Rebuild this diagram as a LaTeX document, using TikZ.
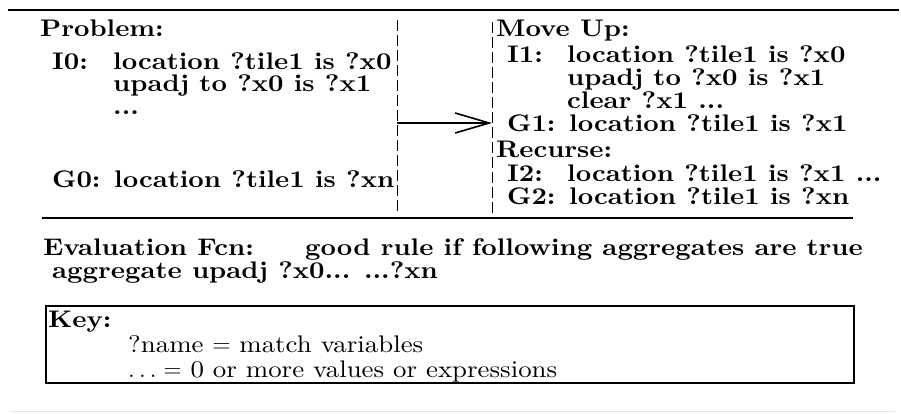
\documentclass[tikz,border=0pt]{standalone}
\usetikzlibrary{arrows.meta, positioning}

\font\figfont="[lmroman10-bold]:mapping=tex-text;extend=1.12" at 24pt
\font\figfontrm="[lmroman10-regular]:mapping=tex-text;extend=1.12" at 24pt

\begin{document}
\begin{tikzpicture}[
  x=1pt, y=-1pt,
  every node/.style={inner sep=0pt, anchor=base west,
    font=\fontsize{24}{26}\selectfont\figfont},
  keyline/.style={font=\fontsize{24}{26}\selectfont\figfontrm},
  rule/.style={line width=2.2pt},
  divider/.style={line width=1pt, dash pattern=on 11pt off 4pt},
  flow/.style={line width=1.2pt, -{Straight Barb[length=34pt,width=20pt,line width=1.6pt]}}
]
\useasboundingbox (0,0) rectangle (901,413);

% frame lines
\draw[rule] (8,10) -- (899,10);
\draw[rule] (42,218) -- (853,218);
\draw[black!10, line width=1pt] (10,411) -- (895,411);

% the two dashed separators
\draw[divider] (397,20) -- (397,214);
\draw[divider] (492,22) -- (492,214);

% left column
\node (prob) at (40,36) {Problem:};
\node (iz) at (52,69) {I0:};
\node (iza) at (113,69) {location ?tile1 is ?x0};
\node (izb) at (113,91) {upadj to ?x0 is ?x1};
\node (izc) at (113,114) {...};
\node (gz) at (52,187) {G0: location ?tile1 is ?xn};

% right column
\node (mvup) at (496,36) {Move Up:};
\node (ione) at (507,62) {I1:};
\node (ionea) at (567,62) {location ?tile1 is ?x0};
\node (ioneb) at (567,85) {upadj to ?x0 is ?x1};
\node (ionec) at (567,108) {clear ?x1 ...};
\node (gone) at (507,131) {G1: location ?tile1 is ?x1};
\node (recur) at (496,157) {Recurse:};
\node (itwo) at (507,181) {I2:};
\node (itwoa) at (567,181) {location ?tile1 is ?x1 ...};
\node (gtwo) at (507,204) {G2: location ?tile1 is ?xn};

% step arrow
\coordinate (from) at (397,123);
\coordinate (to) at (492,123);
\draw[flow] (from) -- (to);

% evaluation
\node (evalf) at (43,255) {Evaluation Fcn:};
\node (good) at (305,255) {good rule if following aggregates are true};
\node (aggr) at (52,278) {aggregate upadj ?x0... ...?xn};

% key box
\draw[line width=1.6pt] (46,306) rectangle (854,383);
\node (key) at (48,327) {Key:};
\node[keyline] (keya) at (128,352) {?name $=$ match variables};
\node[keyline] (keyb) at (128,377) {$\ldots=$ 0 or more values or expressions};
\end{tikzpicture}
\end{document}
